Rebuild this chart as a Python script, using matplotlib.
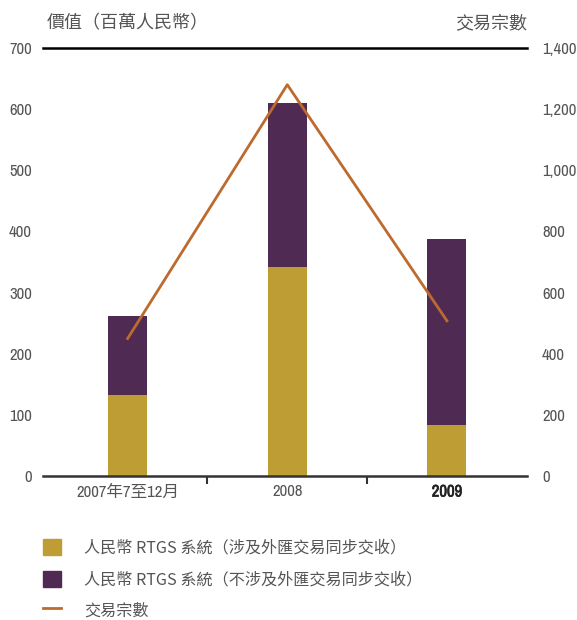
import matplotlib
matplotlib.use("Agg")
import matplotlib.pyplot as plt
from matplotlib import font_manager as fm
from matplotlib import patheffects as pe
from matplotlib.patches import Patch
from matplotlib.lines import Line2D

plt.rcParams['font.family'] = ['Noto Sans CJK TC', 'DejaVu Sans']

# 數字用窄體字（若有），否則退回 Noto 並縮小字號
fonts = fm.fontManager.ttflist
narrow = [f.name for f in fonts if ("Narrow" in f.name or "Condensed" in f.name)]
dv_cond = any(f.name == "DejaVu Sans" and "condensed" in str(f.stretch) for f in fonts)
if narrow:
    NUM_KW = dict(family=[narrow[0], "Noto Sans CJK TC"], fontsize=12)
elif dv_cond:
    NUM_KW = dict(family=["DejaVu Sans", "Noto Sans CJK TC"], fontstretch="condensed", fontsize=11)
else:
    NUM_KW = dict(family=["Noto Sans CJK TC"], fontsize=10)

categories = ["2007年7至12月", "2008", "2009"]
fx_pvp = [132, 342, 83]          # 涉及外匯交易同步交收
non_fx_pvp = [130, 268, 305]     # 不涉及外匯交易同步交收
txn_count = [450, 1280, 508]

left_ticks = list(range(0, 701, 100))
right_ticks = list(range(0, 1401, 200))

GOLD = "#BE9E34"
PURPLE = "#4F2B53"
ORANGE = "#BD6A2E"
GREY = "#555555"

fig = plt.figure(figsize=(5.77, 6.2), dpi=100)
ax = fig.add_axes([0.0745, 0.232, 0.8385, 0.6906])
x = list(range(len(categories)))
w = 0.244
ax.bar(x, fx_pvp, width=w, color=GOLD, zorder=2)
ax.bar(x, non_fx_pvp, width=w, bottom=fx_pvp, color=PURPLE, zorder=2)
ax.set_xlim(-0.53, 2.5)
ax.set_ylim(0, 700)
ax.set_yticks(left_ticks, [str(v) for v in left_ticks], color=GREY, **NUM_KW)
for s in ["left", "right"]:
    ax.spines[s].set_visible(False)
ax.spines["top"].set_linewidth(1.8)
ax.spines["bottom"].set_linewidth(1.8)
ax.spines["bottom"].set_color("#333333")
ax.tick_params(axis="y", length=0, pad=8)
ax.set_xticks(x, categories, color=GREY, **NUM_KW)
ax.set_xticks([0.5, 1.5], minor=True)
ax.tick_params(axis="x", which="major", length=0, pad=6)
ax.tick_params(axis="x", which="minor", length=6, width=1.5, direction="out", color="#333333")
lab = ax.get_xticklabels()[2]
lab.set_fontweight("bold")
lab.set_color("#222222")
lab.set_path_effects([pe.withStroke(linewidth=0.5, foreground="#222222")])

ax2 = ax.twinx()
ax2.plot(x, txn_count, color=ORANGE, lw=2, zorder=3)
ax2.set_ylim(0, 1400)
ax2.set_yticks(right_ticks, [f"{v:,}" for v in right_ticks], color=GREY, **NUM_KW)
for s in ["left", "right", "top", "bottom"]:
    ax2.spines[s].set_visible(False)
ax2.tick_params(axis="y", length=0, pad=11)

fig.text(0.081, 0.962, "價值（百萬人民幣）", fontsize=13, color=GREY, va="center")
fig.text(0.913, 0.962, "交易宗數", fontsize=13, color=GREY, va="center", ha="right")

handles = [Patch(color=GOLD), Patch(color=PURPLE), Line2D([0], [0], color=ORANGE, lw=2)]
labels = ["人民幣 RTGS 系統（涉及外匯交易同步交收）",
          "人民幣 RTGS 系統（不涉及外匯交易同步交收）",
          "交易宗數"]
fig.legend(handles, labels, loc="upper left", bbox_to_anchor=(0.06, 0.143),
           frameon=False, fontsize=11.6, labelcolor=GREY, handlelength=1.15,
           handleheight=1.15, handletextpad=1.4, labelspacing=0.85, borderpad=0)

fig.savefig("out.png", dpi=100)
